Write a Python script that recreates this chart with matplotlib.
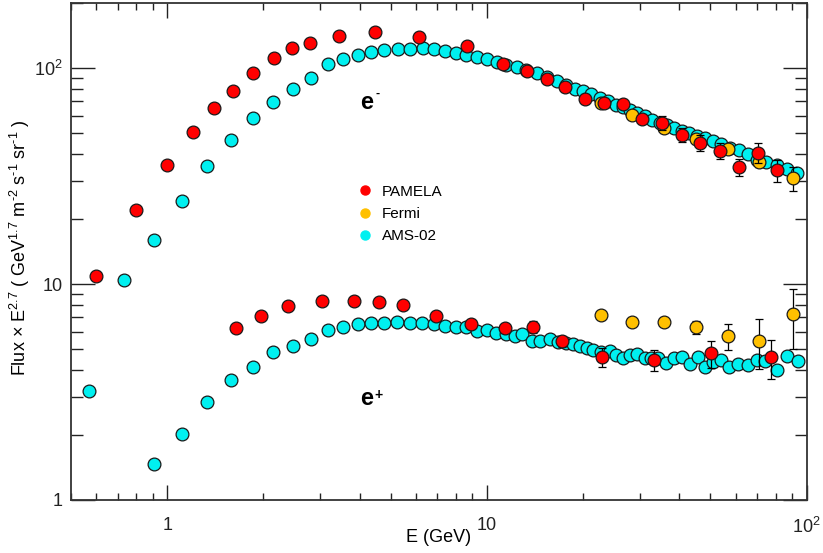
import matplotlib
matplotlib.use("Agg")
import matplotlib.pyplot as plt
from matplotlib.lines import Line2D
from matplotlib.ticker import LogLocator, NullFormatter

plt.rcParams["font.family"] = ["Liberation Sans", "DejaVu Sans"]
plt.rcParams["mathtext.fontset"] = "custom"
plt.rcParams["mathtext.rm"] = "Liberation Sans"
plt.rcParams["mathtext.it"] = "Liberation Sans:italic"
plt.rcParams["mathtext.bf"] = "Liberation Sans:bold"

# ---- electrons ----
pamela_em_E = [0.60, 0.80, 1.00, 1.20, 1.40, 1.60, 1.86, 2.15, 2.46, 2.80, 3.44, 4.47,
               6.13, 8.63, 11.2, 13.3, 15.4, 17.5, 20.3, 23.2, 26.7, 30.6, 35.3, 40.7,
               46.4, 53.5, 61.3, 70.4, 80.6]
pamela_em_F = [10.9, 22.1, 35.6, 50.6, 65.3, 78.2, 95.1, 110.7, 123.6, 129.9, 141.0, 147.5,
               139.2, 126.7, 103.9, 96.5, 88.6, 81.4, 71.6, 68.6, 68.1, 58.3, 55.7, 49.2,
               45.0, 41.5, 34.8, 40.5, 33.6]
pamela_em_err = [0] * 22 + [4.0, 3.6, 3.8, 3.5, 3.3, 4.3, 3.9]

ams_em_E = [0.731, 0.908, 1.11, 1.33, 1.58, 1.86, 2.14, 2.47, 2.82, 3.18, 3.55, 3.94,
            4.33, 4.77, 5.25, 5.75, 6.29, 6.84, 7.41, 8.01, 8.62, 9.29, 10.0, 10.75,
            11.5, 12.4, 13.2, 14.3, 15.4, 16.5, 17.7, 18.8, 20.0, 21.2, 22.6, 23.9,
            25.3, 26.7, 28.0, 29.5, 31.2, 32.9, 34.7, 36.5, 38.4, 40.6, 42.9, 45.3,
            48.1, 51.0, 53.8, 57.5, 61.3, 65.5, 69.8, 74.6, 80.6, 86.6, 93.5]
ams_em_F = [10.4, 16.0, 24.1, 35.2, 46.5, 58.4, 69.9, 80.3, 89.8, 103.9, 109.6, 114.7,
            118.0, 120.8, 122.3, 122.5, 124.1, 121.9, 120.3, 117.2, 115.0, 112.5, 109.6, 106.7,
            103.6, 101.0, 97.5, 94.4, 91.2, 87.4, 83.7, 80.3, 78.0, 75.8, 72.6, 70.1,
            67.7, 65.8, 63.9, 61.7, 59.8, 57.7, 55.7, 54.3, 52.8, 51.0, 50.1, 48.3,
            47.5, 45.8, 44.3, 42.7, 41.8, 39.8, 37.4, 36.7, 35.4, 33.9, 32.7]

fermi_E = [22.7, 28.5, 35.8, 45.0, 56.7, 70.8, 90.5]
fermi_em_F = [68.9, 60.9, 52.8, 46.7, 42.2, 36.7, 30.9]
fermi_em_err = [0, 0, 0, 0, 0, 2.0, 3.9]

# ---- positrons ----
pamela_ep_E = [1.64, 1.96, 2.39, 3.04, 3.84, 4.59, 5.46, 6.92, 8.94, 11.4, 13.9, 17.2,
               22.9, 33.3, 50.1, 77.3]
pamela_ep_F = [6.24, 7.09, 7.94, 8.37, 8.37, 8.24, 7.96, 7.09, 6.52, 6.27, 6.35, 5.43,
               4.58, 4.46, 4.78, 4.58]
pamela_ep_err = [0] * 10 + [0.4, 0.3, 0.46, 0.5, 0.68, 0.95]

ams_ep_E = [0.571, 0.908, 1.11, 1.33, 1.58, 1.86, 2.14, 2.47, 2.82, 3.18, 3.55, 3.94,
            4.33, 4.76, 5.24, 5.75, 6.28, 6.84, 7.41, 7.99, 8.62, 9.29, 10.0, 10.71,
            11.45, 12.2, 12.9, 13.8, 14.6, 15.7, 16.7, 17.7, 18.6, 19.5, 20.5, 21.5,
            22.8, 24.2, 25.3, 26.7, 28.0, 29.5, 31.2, 32.7, 34.3, 36.3, 38.4, 40.6,
            43.1, 45.7, 48.1, 51.0, 54.0, 57.3, 61.1, 65.3, 69.8, 74.3, 80.6, 86.8, 93.6]
ams_ep_F = [3.18, 1.47, 2.03, 2.84, 3.61, 4.15, 4.83, 5.19, 5.57, 6.14, 6.35, 6.54,
            6.61, 6.61, 6.70, 6.63, 6.63, 6.54, 6.42, 6.30, 6.30, 6.06, 6.15, 5.96,
            5.88, 5.73, 5.88, 5.42, 5.42, 5.57, 5.38, 5.32, 5.25, 5.19, 5.07, 4.96,
            4.83, 4.92, 4.67, 4.56, 4.67, 4.72, 4.56, 4.56, 4.56, 4.32, 4.52, 4.59,
            4.27, 4.58, 4.12, 4.35, 4.43, 4.12, 4.24, 4.20, 4.46, 4.38, 3.98, 4.63, 4.39]

fermi_ep_F = [7.19, 6.70, 6.70, 6.31, 5.73, 5.47, 7.27]
fermi_ep_err = [0, 0, 0, 0.45, 0.8, 1.45, 2.25]

labels = ["PAMELA", "Fermi", "AMS-02"]
colors = ["#ff0000", "#ffc000", "#00f0f0"]

W, H = 823, 553
fig = plt.figure(figsize=(W / 100, H / 100), dpi=100)
ax = fig.add_axes([71 / W, 53 / H, 735.7 / W, 497 / H])


def draw(E, F, err, color, z):
    if err is not None:
        ax.errorbar(E, F, yerr=err, fmt="none", ecolor="black", elinewidth=0.9,
                    capsize=2.8, capthick=0.9, zorder=z)
    ax.plot(E, F, "o", ls="none", ms=9.2, mfc=color, mec="#1a1a1a", mew=0.9, zorder=z + 0.5)


draw(ams_em_E, ams_em_F, None, colors[2], 2)
draw(ams_ep_E, ams_ep_F, None, colors[2], 2)
draw(fermi_E, fermi_em_F, fermi_em_err, colors[1], 3)
draw(fermi_E, fermi_ep_F, fermi_ep_err, colors[1], 3)
draw(pamela_em_E, pamela_em_F, pamela_em_err, colors[0], 4)
draw(pamela_ep_E, pamela_ep_F, pamela_ep_err, colors[0], 4)

ax.set_xscale("log")
ax.set_yscale("log")
ax.set_xlim(0.5, 100)
ax.set_ylim(1, 200)

ax.set_xticks([1, 10, 100])
ax.set_xticklabels(["1", "10", "$10^{2}$"])
ax.set_yticks([1, 10, 100])
ax.set_yticklabels(["1", "10", "$10^{2}$"])
for axis in (ax.xaxis, ax.yaxis):
    axis.set_minor_locator(LogLocator(base=10, subs=range(2, 10)))
    axis.set_minor_formatter(NullFormatter())

ax.tick_params(which="both", direction="in", top=True, right=True, colors="#222222")
ax.tick_params(axis="x", which="major", length=10.5, width=1, pad=12, labelsize=13)
ax.tick_params(axis="x", which="minor", length=5, width=1)
ax.tick_params(axis="y", which="major", length=17, width=1, pad=6, labelsize=13)
ax.tick_params(axis="y", which="minor", length=8.5, width=1)
for sp in ax.spines.values():
    sp.set_linewidth(1.3)
    sp.set_color("#333333")

ax.set_xlabel("E (GeV)", fontsize=13)
ax.xaxis.set_label_coords(0.5, -0.058)
fig.text(20 / W, 1 - 248 / H,
         r"Flux × E$^{2.7}$ ( GeV$^{1.7}$ m$^{\text{-}2}$ s$^{\text{-}1}$ sr$^{\text{-}1}$ )",
         rotation=90, ha="center", va="center", fontsize=13)

# species tags
fig.text(360 / W, 1 - 109 / H, "e", fontsize=17, fontweight="bold", ha="left", va="baseline")
fig.text(375 / W, 1 - 94 / H, "-", fontsize=9, fontweight="bold", ha="left", va="center")
fig.text(360 / W, 1 - 405 / H, "e", fontsize=17, fontweight="bold", ha="left", va="baseline")
fig.text(374 / W, 1 - 395 / H, "+", fontsize=10, fontweight="bold", ha="left", va="center")

handles = [Line2D([], [], marker="o", ls="none", ms=6.5, mfc=c, mec=c, label=l)
           for l, c in zip(labels, colors)]
ax.legend(handles=handles, loc="center left", bbox_to_anchor=(357.4 / W, 1 - 214 / H),
          bbox_transform=fig.transFigure, frameon=False, fontsize=11,
          handlelength=1.0, handletextpad=0.6, labelspacing=0.55,
          borderpad=0, borderaxespad=0)

fig.savefig("out.png", dpi=100)
